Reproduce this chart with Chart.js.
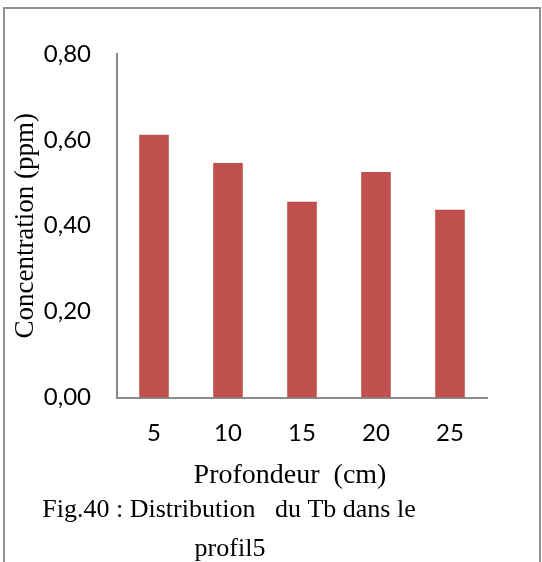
<!DOCTYPE html>
<html>
<head>
<meta charset="utf-8">
<script src="https://cdn.jsdelivr.net/npm/chart.js@4/dist/chart.umd.min.js"></script>
<style>
  html, body { margin: 0; padding: 0; background: #fff; }
  #wrap { position: relative; width: 542px; height: 562px; }
  #frame {
    position: absolute; left: 3px; top: 7px; width: 534px; height: 560px;
    border-top: 2px solid #909090; border-left: 2px solid #909090; border-right: 2px solid #909090;
    pointer-events: none;
  }
  canvas { position: absolute; left: 0; top: 0; }
</style>
</head>
<body>
<div id="wrap">
  <canvas id="c" width="542" height="562"></canvas>
  <div id="frame"></div>
</div>
<script>
// Depth classes (cm) and Tb concentration (ppm)
const depths = ['5', '10', '15', '20', '25'];
const concentration = [0.612, 0.546, 0.456, 0.525, 0.437];
const yTitle = 'Concentration (ppm)';
const xTitle = 'Profondeur  (cm)';
const captionLines = ['Fig.40 : Distribution   du Tb dans le', 'profil5'];

const serif = '"Liberation Serif", "Times New Roman", serif';
const sans = 'Lato, "Noto Sans", sans-serif';

// Axis title under the categories and the figure caption
const captionPlugin = {
  id: 'caption',
  afterDraw(chart) {
    const ctx = chart.ctx;
    ctx.save();
    ctx.fillStyle = '#000';
    ctx.textAlign = 'center';
    ctx.textBaseline = 'alphabetic';
    ctx.font = '28px ' + serif;
    ctx.fillText(xTitle, 290, 483);
    ctx.font = '26px ' + serif;
    ctx.fillText(captionLines[0], 229, 517);
    ctx.fillText(captionLines[1], 230, 556);
    ctx.restore();
  }
};

new Chart(document.getElementById('c'), {
  type: 'bar',
  data: {
    labels: depths,
    datasets: [{
      data: concentration,
      backgroundColor: '#C0504D',
      borderWidth: 0,
      categoryPercentage: 0.8,
      barPercentage: 0.5
    }]
  },
  options: {
    responsive: false,
    animation: false,
    devicePixelRatio: 1,
    layout: { padding: { top: 54, right: 55, left: 0, bottom: 0 } },
    plugins: { legend: { display: false }, tooltip: { enabled: false } },
    scales: {
      x: {
        grid: { display: false, drawTicks: false },
        border: { display: true, color: '#8a8a8a', width: 2 },
        ticks: { color: '#000', font: { family: sans, size: 24 }, padding: 21 },
        afterFit(scale) { scale.height = 164.5; }
      },
      y: {
        min: 0,
        max: 0.8,
        grid: { display: false, drawTicks: false },
        border: { display: true, color: '#8a8a8a', width: 2 },
        ticks: {
          stepSize: 0.2,
          color: '#000',
          font: { family: sans, size: 24 },
          padding: 26,
          callback: v => v.toFixed(2).replace('.', ',')
        },
        title: {
          display: true,
          text: yTitle,
          color: '#000',
          font: { family: serif, size: 27 },
          padding: { top: 10, bottom: 0 }
        },
        afterFit(scale) { scale.width = 117; }
      }
    }
  },
  plugins: [captionPlugin]
});
</script>
</body>
</html>
